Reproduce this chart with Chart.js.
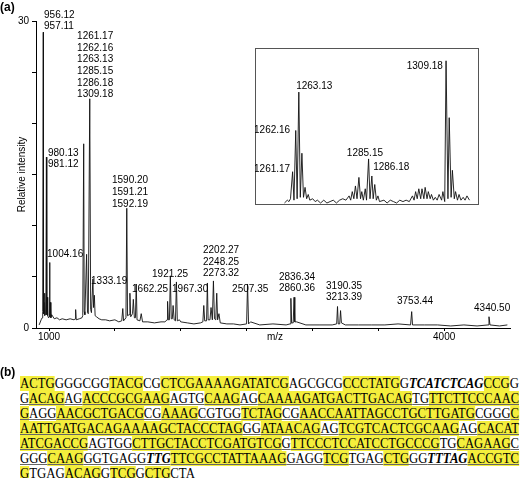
<!DOCTYPE html>
<html>
<head>
<meta charset="utf-8">
<script src="https://cdn.jsdelivr.net/npm/chart.js@4/dist/chart.umd.min.js"></script>
<style>
  body { margin: 0; background: #fff; width: 520px; height: 478px; overflow: hidden; position: relative; font-family: 'Liberation Sans', Arial, sans-serif; }
  #main { position: absolute; left: 0; top: 0; }
  #inset { position: absolute; left: 255px; top: 48px; }
  .lbl { position: absolute; font-weight: bold; font-size: 12px; }
  #seq { position: absolute; left: 20px; top: 376px; font-family: "Liberation Serif", "DejaVu Serif", "Times New Roman", serif; font-size: 14px; line-height: 15px; color: #000; }
  #seq .ln { white-space: nowrap; transform-origin: 0 50%; height: 15px; }
  #seq .ln > span.w { display: inline-block; }
  #seq .u { text-decoration: underline; text-decoration-color: #666; }
  .y { background: #f4ee3c; }
  .bi { font-weight: bold; font-style: italic; }
</style>
</head>
<body>
<canvas id="main" width="520" height="345"></canvas>
<canvas id="inset" width="224" height="157"></canvas>
<div class="lbl" style="left:0;top:0">(a)</div>
<div class="lbl" style="left:0;top:365px">(b)</div>
<div id="seq"></div>
<script>
// main spectrum
const mzValues = [
  925, 940, 948, 952, 956.12, 958, 962, 965, 969, 972, 976, 980.13, 983, 986, 990, 996,
  1000, 1004.16, 1007, 1010, 1014, 1020, 1040, 1060, 1080, 1100, 1130, 1160, 1190, 1198,
  1202, 1206, 1230, 1250, 1256, 1263.13, 1267, 1272, 1285.15, 1292, 1298, 1309.18, 1316,
  1322, 1333.19, 1338, 1344, 1350, 1360, 1380, 1400, 1430, 1460, 1500, 1530, 1552, 1560,
  1566, 1584, 1590.2, 1596, 1608, 1614, 1620, 1634, 1640, 1648, 1656, 1662.25, 1668, 1690,
  1700, 1710, 1750, 1800, 1850, 1880, 1896, 1900, 1906, 1914, 1921.25, 1928, 1936, 1942,
  1950, 1960, 1967.3, 1974, 1990, 2000, 2050, 2100, 2150, 2168, 2175, 2182, 2196, 2202.27,
  2208, 2222, 2230, 2240, 2248.25, 2256, 2266, 2273.32, 2280, 2290, 2300, 2350, 2400,
  2450, 2500, 2507.35, 2515, 2530, 2600, 2700, 2800, 2830, 2836.34, 2842, 2854, 2860.36,
  2866, 2880, 2950, 3050, 3150, 3184, 3190.35, 3196, 3207, 3213.39, 3220, 3250, 3350,
  3450, 3550, 3650, 3745, 3753.44, 3760, 3850, 3950, 4050, 4150, 4250, 4334, 4340.5,
  4348, 4420, 4480
];
const intensityValues = [
  0.3, 0.8, 1.0, 1.6, 28.9, 1.4, 2.5, 1.2, 3.4, 1.3, 1.4, 16.7, 1.3, 3.0, 1.2, 1.0,
  1.1, 6.4, 1.1, 2.5, 1.0, 1.3, 0.9, 1.0, 0.8, 0.9, 0.8, 0.9, 0.8, 0.9,
  1.8, 0.8, 0.9, 1.0, 1.2, 18.0, 1.6, 1.3, 7.2, 1.5, 1.4, 22.4, 1.8,
  1.5, 4.8, 2.0, 3.2, 1.2, 1.1, 0.9, 0.8, 0.8, 0.7, 0.8, 0.6, 0.7, 1.9,
  0.7, 1.0, 11.7, 1.2, 1.3, 3.4, 1.1, 1.4, 2.8, 1.0, 1.0, 4.3, 0.8, 0.7,
  1.4, 0.6, 0.6, 0.5, 0.6, 0.6, 0.8, 2.6, 0.8, 0.8, 5.1, 0.9, 0.9, 2.2,
  0.8, 0.7, 4.5, 0.7, 0.8, 0.6, 0.5, 0.4, 0.5, 0.6, 2.2, 0.7, 0.7, 4.4,
  0.8, 0.8, 2.0, 0.8, 4.6, 0.9, 0.8, 3.4, 0.8, 1.4, 0.5, 0.4, 0.4,
  0.3, 0.4, 4.3, 0.4, 0.6, 0.3, 0.4, 0.3, 0.4, 2.9, 0.5, 0.5, 3.0,
  0.6, 0.6, 0.3, 0.3, 0.3, 0.4, 2.1, 0.4, 0.4, 1.7, 0.5, 0.3, 0.3,
  0.3, 0.3, 0.4, 0.3, 1.6, 0.3, 0.3, 0.3, 0.2, 0.3, 0.2, 0.3, 1.1,
  0.3, 0.2, 0.3
];
const xTickValues = [1000, 1500, 2000, 2500, 3000, 3500, 4000];
const xTickLabels = ['1000', '', '', '', '', '', '4000'];
const yTickLabels = ['0', '', '', '', '', '', '30'];

// peak labels: text lines, anchor m/z, anchor intensity (top line)
const peakLabelLines = [
  ['956.12', '957.11'],
  ['1261.17', '1262.16', '1263.13', '1285.15', '1286.18', '1309.18'],
  ['980.13', '981.12'],
  ['1004.16'],
  ['1333.19'],
  ['1590.20', '1591.21', '1592.19'],
  ['1662.25'],
  ['1921.25'],
  ['1967.30'],
  ['2202.27', '2248.25', '2273.32'],
  ['2507.35'],
  ['2836.34', '2860.36'],
  ['3190.35', '3213.39'],
  ['3753.44'],
  ['4340.50']
];
const peakLabelMz = [962, 1213, 992, 985, 1319, 1478, 1630, 1782, 1934, 2169, 2390, 2746, 3103, 3642, 4227];
const peakLabelInt = [30.6, 28.5, 17.1, 7.2, 4.6, 14.4, 3.8, 5.3, 3.8, 7.6, 3.8, 5.0, 4.1, 2.6, 1.9];

// inset (zoom of 1258-1317)
const insetMz = [
  1258.6, 1259.5, 1260, 1260.5, 1261.17, 1261.6, 1262.16, 1262.6, 1263.13, 1263.6, 1264.1, 1264.6,
  1265.1, 1265.6, 1266.1, 1266.6, 1267.5, 1268.3, 1269, 1270, 1271, 1272, 1273, 1274, 1275, 1276,
  1277, 1278, 1279, 1279.5, 1280, 1280.5, 1281, 1281.5, 1282.1, 1282.6, 1283, 1283.5, 1284.1, 1284.5,
  1285.15, 1285.6, 1286.18, 1286.6, 1287.1, 1287.6, 1288.1, 1288.6, 1290, 1291, 1292, 1293, 1294,
  1295, 1296, 1297, 1298, 1299, 1299.5, 1300, 1300.5, 1301, 1301.6, 1302, 1302.6, 1303, 1303.6,
  1304, 1304.6, 1305, 1305.6, 1306.2, 1306.8, 1307.4, 1308.2, 1308.6, 1309.18, 1309.6, 1310.2,
  1310.6, 1311.2, 1311.6, 1312.2, 1312.6, 1313.2, 1313.7, 1314.3, 1315, 1315.6, 1316.2, 1317
];
const insetIntensity = [
  0.0, 0.02, 0.01, 0.03, 0.22, 0.02, 0.51, 0.03, 0.78, 0.04, 0.35, 0.04,
  0.11, 0.03, 0.06, 0.02, 0.03, 0.01, 0.02, 0.0, 0.02, 0.0, 0.01, 0.02, 0.0, 0.02,
  0.03, 0.02, 0.05, 0.02, 0.08, 0.03, 0.12, 0.03, 0.18, 0.03, 0.08, 0.02, 0.1, 0.02,
  0.31, 0.03, 0.19, 0.03, 0.13, 0.02, 0.05, 0.01, 0.02, 0.0, 0.02, 0.01, 0.0,
  0.02, 0.01, 0.02, 0.01, 0.05, 0.02, 0.08, 0.03, 0.1, 0.03, 0.1, 0.03, 0.11, 0.03,
  0.08, 0.03, 0.06, 0.02, 0.04, 0.02, 0.06, 0.02, 0.08, 0.01, 1.0, 0.03, 0.6,
  0.04, 0.23, 0.03, 0.08, 0.02, 0.06, 0.02, 0.04, 0.02, 0.05, 0.02, 0.05
];
const insetLabelText = ['1309.18', '1263.13', '1262.16', '1285.15', '1261.17', '1286.18'];
const insetLabelMz = [1308.6, 1262.3, 1260.4, 1284.0, 1260.4, 1286.6];
const insetLabelInt = [0.96, 0.82, 0.51, 0.35, 0.24, 0.25];
const insetLabelAlign = ['right', 'left', 'right', 'center', 'right', 'left'];

const labelFont = '10px "Liberation Sans", Arial, sans-serif';

const mainText = {
  id: 'mainText',
  afterDraw(chart) {
    const { ctx, scales: { x, y }, chartArea } = chart;
    ctx.save();
    ctx.fillStyle = '#000';
    ctx.font = labelFont;
    ctx.textBaseline = 'middle';
    peakLabelLines.forEach((lines, i) => {
      const px = x.getPixelForValue(peakLabelMz[i]);
      const py = y.getPixelForValue(peakLabelInt[i]);
      lines.forEach((t, j) => ctx.fillText(t, px, py + j * 11.6));
    });
    ctx.textAlign = 'center';
    ctx.fillText('m/z', 275, 337);
    ctx.translate(22, (chartArea.top + chartArea.bottom) / 2);
    ctx.rotate(-Math.PI / 2);
    ctx.fillText('Relative intensity', 0, 0);
    ctx.restore();
  },
};

new Chart(document.getElementById('main'), {
  type: 'line',
  data: {
    datasets: [{
      data: mzValues.map((m, i) => ({ x: m, y: intensityValues[i] })),
      borderColor: '#111',
      borderWidth: 0.9,
      pointRadius: 0,
      tension: 0,
    }],
  },
  options: {
    responsive: false,
    animation: false,
    layout: { padding: { top: 21, right: 10, left: 0, bottom: 0 } },
    plugins: { legend: { display: false }, tooltip: { enabled: false } },
    scales: {
      x: {
        type: 'linear',
        min: 901,
        max: 4500,
        afterBuildTicks: (axis) => { axis.ticks = xTickValues.map((v) => ({ value: v })); },
        afterFit: (axis) => { axis.height = 17; },
        ticks: {
          callback: (v) => xTickLabels[xTickValues.indexOf(v)] || '',
          font: { size: 10, family: 'Liberation Sans' },
          color: '#000',
          padding: 0,
          maxRotation: 0,
        },
        grid: { drawOnChartArea: false, drawTicks: true, tickLength: 3, color: '#000' },
        border: { color: '#000', width: 1 },
      },
      y: {
        min: 0,
        max: 30,
        afterFit: (axis) => { axis.width = 36; },
        ticks: {
          stepSize: 5,
          callback: (v) => yTickLabels[v / 5] || '',
          font: { size: 10, family: 'Liberation Sans' },
          color: '#000',
          padding: 3,
        },
        grid: { drawOnChartArea: false, drawTicks: true, tickLength: 4, color: '#000' },
        border: { color: '#000', width: 1 },
      },
    },
  },
  plugins: [mainText],
});

const insetText = {
  id: 'insetText',
  beforeDraw(chart) {
    const { ctx } = chart;
    ctx.save();
    ctx.fillStyle = '#fff';
    ctx.fillRect(0, 0, chart.width, chart.height);
    ctx.restore();
  },
  afterDraw(chart) {
    const { ctx, scales: { x, y } } = chart;
    ctx.save();
    ctx.strokeStyle = '#555';
    ctx.lineWidth = 1;
    ctx.strokeRect(0.5, 0.5, chart.width - 1, chart.height - 1);
    ctx.fillStyle = '#000';
    ctx.font = labelFont;
    ctx.textBaseline = 'middle';
    insetLabelText.forEach((t, i) => {
      ctx.textAlign = insetLabelAlign[i];
      ctx.fillText(t, x.getPixelForValue(insetLabelMz[i]), y.getPixelForValue(insetLabelInt[i]));
    });
    ctx.restore();
  },
};

new Chart(document.getElementById('inset'), {
  type: 'line',
  data: {
    datasets: [{
      data: insetMz.map((m, i) => ({ x: m, y: insetIntensity[i] })),
      borderColor: '#111',
      borderWidth: 0.9,
      pointRadius: 0,
      tension: 0,
    }],
  },
  options: {
    responsive: false,
    animation: false,
    layout: { padding: 0 },
    plugins: { legend: { display: false }, tooltip: { enabled: false } },
    scales: {
      x: { type: 'linear', min: 1249.3, max: 1320, display: false },
      y: { min: -0.014, max: 1.09, display: false },
    },
  },
  plugins: [insetText],
});

// (b) sequence: segments per line, h = highlighted, b = bold italic
const seqLines = [
  [['ACTG', 'h'], ['GGGCGG'], ['TACG', 'h'], ['CG'], ['CTCGAAAAGATATCG', 'h'], ['AGCGCG'], ['CCCTATG', 'h'], ['G'], ['TCATCTCAG', 'b'], ['CCG', 'h'], ['G']],
  [['G'], ['ACAG', 'h'], ['AG'], ['ACCCGCGAAG', 'h'], ['AGTG'], ['CAAG', 'h'], ['AG'], ['CAAAAGATGACTTGACAG', 'h'], ['TG'], ['TTCTTCCCAAC', 'h']],
  [['G', 'h'], ['AGG'], ['AACGCTGACG', 'h'], ['CG'], ['AAAG', 'h'], ['CGTGG'], ['TCTAG', 'h'], ['CG'], ['AACCAATTAGCCTGCTTGATG', 'h'], ['CGGG'], ['C', 'h']],
  [['AATTGATGACAGAAAAGCTACCCTAG', 'h'], ['GG'], ['ATAACAG', 'h'], ['AG'], ['TCGTCACTCGCAAG', 'h'], ['AG'], ['CACAT', 'h']],
  [['ATCGACCG', 'h'], ['AGTGG'], ['CTTGCTACCTCGATGTCG', 'h'], ['G'], ['TTCCCTCCATCCTGCCCG', 'h'], ['TG'], ['CAGAAG', 'h'], ['C']],
  [['GGG'], ['CAAG', 'h'], ['GGTGAGG'], ['TTG', 'b'], ['TTCGCCTATTAAAG', 'h'], ['GAGG'], ['TCG', 'h'], ['TGAG'], ['CTG', 'h'], ['GG'], ['TTTAG', 'b'], ['ACCGTC', 'h']],
  [['G', 'h'], ['TGAG'], ['ACAG', 'h'], ['G'], ['TCG', 'h'], ['G'], ['CTG', 'h'], ['CTA']],
];
const underlined = [false, true, true, true, true, true, false];

const seqEl = document.getElementById('seq');
const rows = seqLines.map((segs, i) => {
  const row = document.createElement('div');
  row.className = 'ln';
  const inner = document.createElement('span');
  inner.className = 'w' + (underlined[i] ? ' u' : '');
  segs.forEach(([t, k]) => {
    const s = document.createElement('span');
    if (k === 'h') s.className = 'y';
    if (k === 'b') s.className = 'bi';
    s.textContent = t;
    inner.appendChild(s);
  });
  row.appendChild(inner);
  seqEl.appendChild(row);
  return inner;
});
const baseScale = 499 / rows[0].getBoundingClientRect().width;
rows.forEach((inner, i) => {
  const s = i === rows.length - 1 ? baseScale : 499 / inner.getBoundingClientRect().width;
  inner.parentNode.style.transform = `scaleX(${s})`;
});
</script>
</body>
</html>
